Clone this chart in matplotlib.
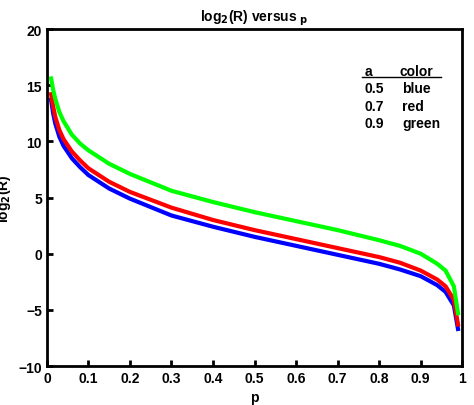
import matplotlib.pyplot as plt

p = [0.01, 0.015, 0.02, 0.03, 0.04, 0.06, 0.08, 0.1, 0.15, 0.2, 0.3, 0.4, 0.5, 0.6, 0.7, 0.8, 0.85, 0.9, 0.94, 0.96, 0.98, 0.99]
blue = [13.7, 12.5, 11.6, 10.4, 9.6, 8.5, 7.7, 7.0, 5.8, 4.9, 3.4, 2.4, 1.5, 0.7, -0.1, -0.9, -1.4, -2.0, -2.8, -3.4, -4.6, -6.7]
red = [14.2, 13.1, 12.2, 11.0, 10.2, 9.1, 8.3, 7.6, 6.4, 5.5, 4.1, 3.0, 2.1, 1.3, 0.5, -0.3, -0.8, -1.5, -2.3, -2.9, -4.1, -6.3]
green = [15.6, 14.6, 13.8, 12.6, 11.8, 10.6, 9.8, 9.2, 8.0, 7.1, 5.6, 4.6, 3.7, 2.9, 2.1, 1.2, 0.7, 0.0, -0.9, -1.5, -2.9, -5.3]

plt.rcParams["font.family"] = ["Liberation Sans", "DejaVu Sans"]
plt.rcParams["font.weight"] = "bold"
plt.rcParams["mathtext.default"] = "bf"

fig = plt.figure(figsize=(4.74, 4.06), dpi=100)
ax = fig.add_axes([0.099, 0.096, 0.876, 0.83])
ax.plot(p, blue, color="#0000ff", lw=3)
ax.plot(p, red, color="#ff0000", lw=3)
ax.plot(p, green, color="#00ff00", lw=3)
ax.set_xlim(0, 1)
ax.set_ylim(-10, 20)
ax.set_xticks([0, 0.1, 0.2, 0.3, 0.4, 0.5, 0.6, 0.7, 0.8, 0.9, 1])
ax.set_xticklabels(["0", "0.1", "0.2", "0.3", "0.4", "0.5", "0.6", "0.7", "0.8", "0.9", "1"])
ax.tick_params(direction="in", width=2, length=4, labelsize=10)
for s in ax.spines.values():
    s.set_linewidth(2)
ax.set_xlabel("p", fontsize=10, fontweight="bold")
ax.set_ylabel(r"log$_2$(R)", fontsize=10, fontweight="bold")
ax.set_title(r"log$_2$(R) versus $_\mathrm{p}$", fontsize=10, fontweight="bold")

# legend table
kw = dict(transform=ax.transAxes, fontsize=10, fontweight="bold")
ax.text(0.765, 0.865, "a", **kw)
ax.text(0.85, 0.865, "color", **kw)
ax.plot([0.76, 0.95], [0.857, 0.857], color="black", lw=1, transform=ax.transAxes)
ax.text(0.765, 0.812, "0.5", **kw)
ax.text(0.855, 0.812, "blue", **kw)
ax.text(0.765, 0.76, "0.7", **kw)
ax.text(0.855, 0.76, "red", **kw)
ax.text(0.765, 0.708, "0.9", **kw)
ax.text(0.855, 0.708, "green", **kw)

fig.savefig("out.png")
